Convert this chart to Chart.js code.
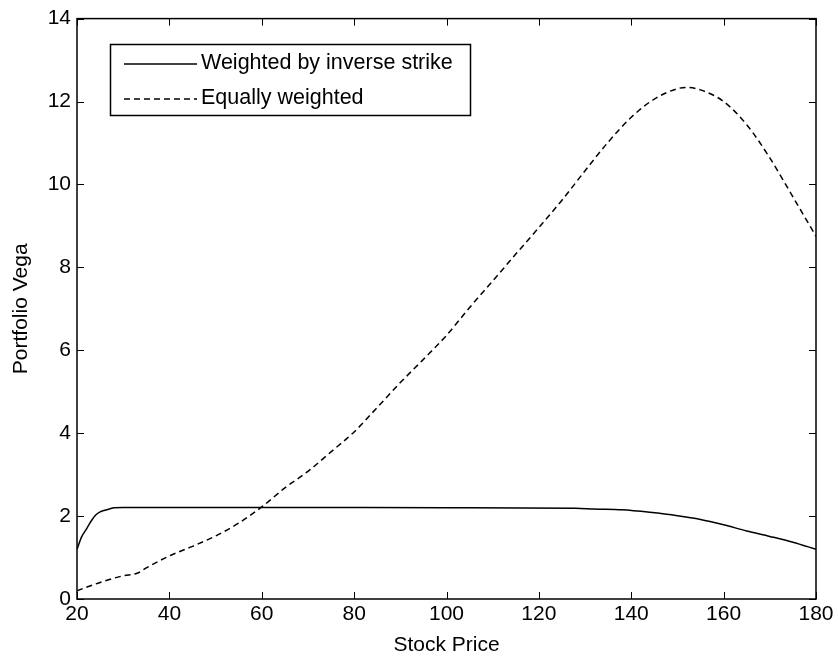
<!DOCTYPE html>
<html><head><meta charset="utf-8">
<script src="https://cdn.jsdelivr.net/npm/chart.js@4/dist/chart.umd.min.js"></script>
<style>html,body{margin:0;padding:0;background:#fff}#c{display:block}</style>
</head><body>
<canvas id="c" width="837" height="658"></canvas>
<script>
// ---- data ----
const solidLabel = 'Weighted by inverse strike';
const solidX = [20,21,22,23,24,25,26,27,28,30,60,100,128,132,138,144,150,155,160,165,170,175,180];
const solidY = [1.2,1.5,1.68,1.87,2.02,2.1,2.14,2.17,2.2,2.21,2.21,2.2,2.19,2.17,2.15,2.09,2.01,1.92,1.79,1.64,1.51,1.37,1.2];

const dashLabel = 'Equally weighted';
const dashX = [20,25,30,33,35,40,45,50,55,60,65,70,75,80,85,90,95,100,105,110,115,120,125,130,135,140,145,150,152,155,160,165,170,175,180];
const dashY = [0.2,0.4,0.56,0.62,0.75,1.04,1.27,1.52,1.83,2.22,2.68,3.08,3.55,4.03,4.62,5.22,5.78,6.36,7.03,7.67,8.32,8.96,9.62,10.33,11.02,11.62,12.06,12.31,12.34,12.28,12.0,11.44,10.64,9.7,8.75];

const xTicks = [20,40,60,80,100,120,140,160,180];
const yTicks = [0,2,4,6,8,10,12,14];
const xTitle = 'Stock Price';
const yTitle = 'Portfolio Vega';

const FONT = '"Liberation Sans", Arial, Helvetica, sans-serif';
const toPts = (xs, ys) => xs.map((x, i) => ({x: x, y: ys[i]}));

const boxPlugin = {
  id: 'matlabBox',
  afterDatasetsDraw(chart) {
    const {ctx, chartArea: a, scales} = chart;
    ctx.save();
    ctx.strokeStyle = '#000';
    ctx.lineWidth = 1.5;
    ctx.strokeRect(a.left, a.top, a.right - a.left, a.bottom - a.top);
    const tl = 7;
    ctx.lineWidth = 1;
    ctx.beginPath();
    xTicks.forEach(v => {
      const px = Math.round(scales.x.getPixelForValue(v)) + 0.5;
      ctx.moveTo(px, a.bottom); ctx.lineTo(px, a.bottom - tl);
      ctx.moveTo(px, a.top); ctx.lineTo(px, a.top + tl);
    });
    yTicks.forEach(v => {
      const py = Math.round(scales.y.getPixelForValue(v)) + 0.5;
      ctx.moveTo(a.left, py); ctx.lineTo(a.left + tl, py);
      ctx.moveTo(a.right, py); ctx.lineTo(a.right - tl, py);
    });
    ctx.stroke();

    // legend inside plot
    const lx = 110.5, ly = 44.5, lw = 360, lh = 71;
    ctx.fillStyle = '#fff';
    ctx.fillRect(lx, ly, lw, lh);
    ctx.lineWidth = 1.5;
    ctx.strokeRect(lx, ly, lw, lh);
    const ds = chart.data.datasets;
    const rows = [64, 99];
    ctx.font = '21.5px ' + FONT;
    ctx.textBaseline = 'middle';
    ctx.fillStyle = '#000';
    ds.forEach((d, i) => {
      ctx.beginPath();
      ctx.lineWidth = d.borderWidth;
      ctx.setLineDash(d.borderDash || []);
      ctx.moveTo(124, rows[i]); ctx.lineTo(197, rows[i]);
      ctx.stroke();
      ctx.setLineDash([]);
      ctx.fillText(d.label, 201, rows[i] - 0.5);
    });
    ctx.restore();
  }
};

new Chart(document.getElementById('c'), {
  type: 'scatter',
  data: {
    datasets: [
      { label: solidLabel, data: toPts(solidX, solidY), showLine: true, borderColor: '#000',
        borderWidth: 1.5, pointRadius: 0, cubicInterpolationMode: 'monotone', fill: false },
      { label: dashLabel, data: toPts(dashX, dashY), showLine: true, borderColor: '#000',
        borderWidth: 1.5, borderDash: [6, 4], pointRadius: 0, cubicInterpolationMode: 'monotone', fill: false }
    ]
  },
  options: {
    responsive: false, animation: false, devicePixelRatio: 1,
    layout: { padding: { left: 0, right: 21, top: 17, bottom: 0 } },
    plugins: { legend: { display: false }, tooltip: { enabled: false } },
    scales: {
      x: {
        type: 'linear', min: 20, max: 180,
        afterBuildTicks: s => { s.ticks = xTicks.map(v => ({value: v})); },
        afterFit: s => { s.height = 59; },
        grid: { display: false, drawTicks: false },
        border: { display: false },
        ticks: { color: '#000', font: { family: FONT, size: 21 }, padding: 3, maxRotation: 0, autoSkip: false },
        title: { display: true, text: xTitle, color: '#000', font: { family: FONT, size: 21 }, padding: { top: 0, bottom: 0 } }
      },
      y: {
        type: 'linear', min: 0, max: 14,
        afterBuildTicks: s => { s.ticks = yTicks.map(v => ({value: v})); },
        afterFit: s => { s.width = 77; },
        grid: { display: false, drawTicks: false },
        border: { display: false },
        ticks: { color: '#000', font: { family: FONT, size: 21 }, padding: 6, autoSkip: false },
        title: { display: true, text: yTitle, color: '#000', font: { family: FONT, size: 21 }, padding: { top: 9, bottom: 0 } }
      }
    }
  },
  plugins: [boxPlugin]
});
</script>
</body></html>
